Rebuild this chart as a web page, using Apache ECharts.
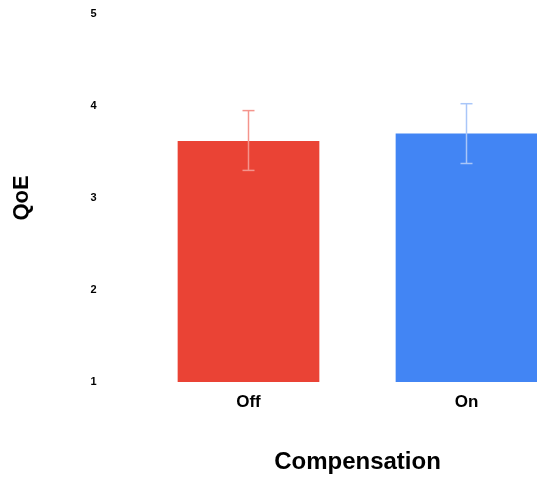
<!DOCTYPE html>
<html><head><meta charset="utf-8">
<script src="https://cdn.jsdelivr.net/npm/echarts@6/dist/echarts.min.js"></script>
<style>html,body{margin:0;padding:0;background:#fff}#c{width:537px;height:479px}</style>
</head><body><div id="c"></div>
<script>
const categories = ['Off', 'On'];
const means = [3.62, 3.70];
const errLow = [3.30, 3.375];
const errHigh = [3.95, 4.025];
const barColors = ['#EA4335', '#4285F4'];
const errColors = ['#F4948C', '#A9C6F8'];
const yTicks = [1, 2, 3, 4, 5];

const FONT = '"Liberation Sans", Arial, sans-serif';
const chart = echarts.init(document.getElementById('c'));
chart.setOption({
  animation: false,
  grid: { left: 139.5, width: 436, top: 14, height: 368, containLabel: false, outerBoundsMode: 'none' },
  xAxis: {
    type: 'category', data: categories,
    axisLine: { show: false }, axisTick: { show: false },
    axisLabel: { fontFamily: FONT, fontSize: 17, fontWeight: 'bold', color: '#000', margin: 12 },
    name: 'Compensation', nameLocation: 'middle', nameGap: 68,
    nameTextStyle: { fontFamily: FONT, fontSize: 24, fontWeight: 'bold', color: '#000' }
  },
  yAxis: {
    type: 'value', min: yTicks[0], max: yTicks[yTicks.length - 1], interval: 1,
    axisLine: { show: false }, axisTick: { show: false }, splitLine: { show: false },
    axisLabel: { fontFamily: FONT, fontSize: 11, fontWeight: 'bold', color: '#000', margin: 43 },
    name: 'QoE', nameLocation: 'middle', nameRotate: 90, nameGap: 107,
    nameTextStyle: { fontFamily: FONT, fontSize: 22, fontWeight: 'bold', color: '#000' }
  },
  series: [
    {
      type: 'bar', barWidth: '65%',
      data: means.map((v, i) => ({ value: v, itemStyle: { color: barColors[i] } }))
    },
    {
      type: 'custom', z: 10,
      data: categories.map((c, i) => [i, errLow[i], errHigh[i]]),
      renderItem: function (params, api) {
        const i = api.value(0);
        const lo = api.coord([i, api.value(1)]);
        const hi = api.coord([i, api.value(2)]);
        const w = 6;
        const style = { stroke: errColors[i], lineWidth: 1.5 };
        return { type: 'group', children: [
          { type: 'line', shape: { x1: lo[0], y1: lo[1], x2: hi[0], y2: hi[1] }, style },
          { type: 'line', shape: { x1: hi[0] - w, y1: hi[1], x2: hi[0] + w, y2: hi[1] }, style },
          { type: 'line', shape: { x1: lo[0] - w, y1: lo[1], x2: lo[0] + w, y2: lo[1] }, style }
        ]};
      }
    }
  ]
});
</script></body></html>
